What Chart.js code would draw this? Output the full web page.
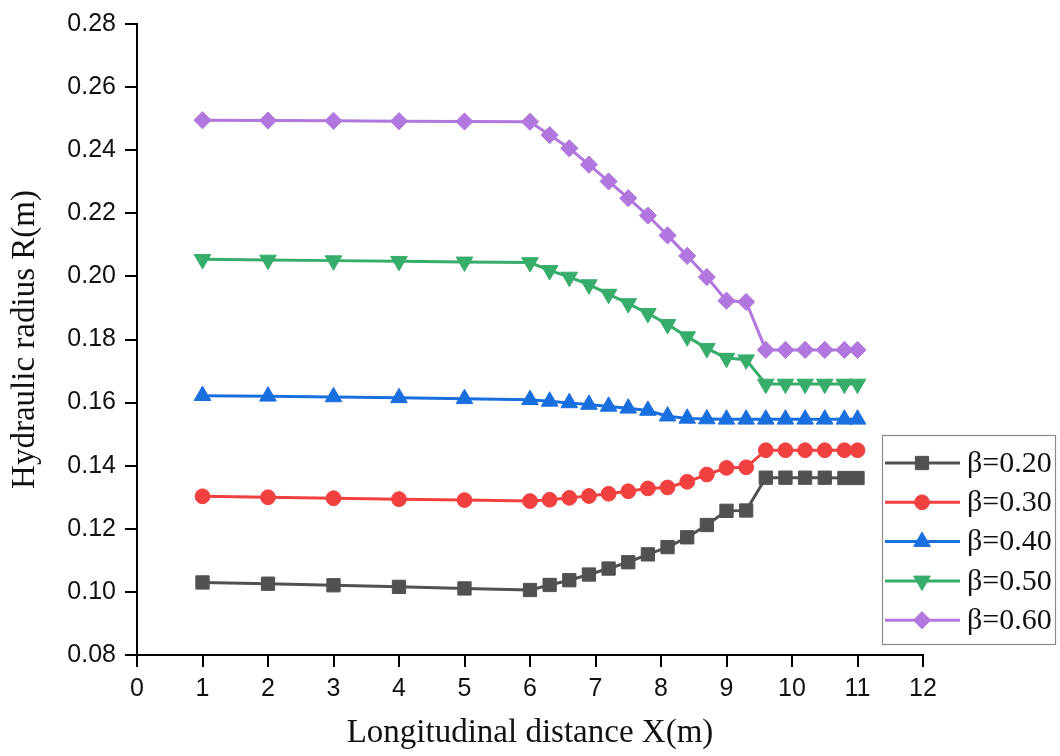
<!DOCTYPE html>
<html>
<head>
<meta charset="utf-8">
<title>Hydraulic radius</title>
<script src="https://cdn.jsdelivr.net/npm/chart.js@4/dist/chart.umd.min.js"></script>
<style>
  html, body { margin: 0; padding: 0; background: #fff; }
  #wrap { width: 1060px; height: 756px; position: relative; }
</style>
</head>
<body>
<div id="wrap"><canvas id="radiusChart"></canvas></div>
<script>
// longitudinal positions (m)
const xPositions = [1, 2, 3, 4, 5, 6, 6.3, 6.6, 6.9, 7.2, 7.5, 7.8, 8.1, 8.4, 8.7, 9.0, 9.3, 9.6, 9.9, 10.2, 10.5, 10.8, 11.0];

// hydraulic radius R (m) for each beta
const beta020 = [0.1030, 0.1026, 0.1021, 0.1016, 0.1011, 0.1006, 0.1022, 0.1037, 0.1055, 0.1074, 0.1094, 0.1119, 0.1142, 0.1173, 0.1212, 0.1257, 0.1258, 0.1362, 0.1362, 0.1362, 0.1362, 0.1361, 0.1361];
const beta030 = [0.1303, 0.1300, 0.1297, 0.1294, 0.1291, 0.1288, 0.1292, 0.1298, 0.1304, 0.1311, 0.1319, 0.1328, 0.1331, 0.1349, 0.1372, 0.1393, 0.1395, 0.1449, 0.1449, 0.1449, 0.1449, 0.1449, 0.1449];
const beta040 = [0.1622, 0.1620, 0.1618, 0.1615, 0.1612, 0.1609, 0.1604, 0.1599, 0.1594, 0.1588, 0.1582, 0.1575, 0.1557, 0.1550, 0.1548, 0.1547, 0.1547, 0.1547, 0.1547, 0.1547, 0.1547, 0.1547, 0.1547];
const beta050 = [0.2054, 0.2052, 0.2050, 0.2048, 0.2046, 0.2044, 0.2019, 0.1998, 0.1974, 0.1944, 0.1914, 0.1883, 0.1848, 0.1809, 0.1772, 0.1741, 0.1736, 0.1659, 0.1659, 0.1659, 0.1659, 0.1659, 0.1659];
const beta060 = [0.2495, 0.2494, 0.2493, 0.2492, 0.2491, 0.2490, 0.2448, 0.2406, 0.2354, 0.2301, 0.2248, 0.2193, 0.2130, 0.2065, 0.1998, 0.1923, 0.1919, 0.1767, 0.1767, 0.1767, 0.1767, 0.1767, 0.1767];

const seriesLabels = ['β=0.20', 'β=0.30', 'β=0.40', 'β=0.50', 'β=0.60'];
const seriesValues = [beta020, beta030, beta040, beta050, beta060];
const seriesColors = ['#515151', '#F14040', '#1A6FDF', '#37AD6B', '#B177DE'];
const markerStyles = [
  { pointStyle: 'rect', radius: 9.4, rotation: 0 },
  { pointStyle: 'circle', radius: 7.4, rotation: 0 },
  { pointStyle: 'triangle', radius: 9.6, rotation: 0 },
  { pointStyle: 'triangle', radius: 9.6, rotation: 180 },
  { pointStyle: 'rectRot', radius: 8.6, rotation: 0 }
];

const xTicks = [0, 1, 2, 3, 4, 5, 6, 7, 8, 9, 10, 11, 12];
const yTicks = [0.08, 0.10, 0.12, 0.14, 0.16, 0.18, 0.20, 0.22, 0.24, 0.26, 0.28];

const datasets = seriesValues.map((vals, i) => ({
  label: seriesLabels[i],
  data: vals.map((v, j) => ({ x: xPositions[j], y: v })),
  borderColor: seriesColors[i],
  backgroundColor: seriesColors[i],
  pointBackgroundColor: seriesColors[i],
  pointBorderColor: seriesColors[i],
  borderWidth: 3,
  pointStyle: markerStyles[i].pointStyle,
  pointRadius: markerStyles[i].radius,
  pointRotation: markerStyles[i].rotation,
  pointBorderWidth: 1,
  tension: 0
}));

// boxed legend sitting over the lower right corner of the plot
const boxLegend = {
  id: 'boxLegend',
  afterDraw(chart, args, opts) {
    const ctx = chart.ctx;
    ctx.save();
    ctx.fillStyle = '#fff';
    ctx.fillRect(opts.left, opts.top, opts.width, opts.height);
    ctx.strokeStyle = '#8a8a8a';
    ctx.lineWidth = 1.2;
    ctx.strokeRect(opts.left + 0.5, opts.top + 0.5, opts.width, opts.height);
    chart.data.datasets.forEach((ds, i) => {
      const y = opts.top + opts.firstRow + i * opts.rowGap;
      ctx.strokeStyle = ds.borderColor;
      ctx.fillStyle = ds.borderColor;
      ctx.lineWidth = 3;
      ctx.beginPath();
      ctx.moveTo(opts.left + 3, y);
      ctx.lineTo(opts.left + 78, y);
      ctx.stroke();
      ctx.lineWidth = 1;
      Chart.helpers.drawPoint(ctx, {
        pointStyle: ds.pointStyle,
        radius: ds.pointRadius,
        rotation: ds.pointRotation,
        borderWidth: 1
      }, opts.left + 40, y);
      ctx.fillStyle = '#111';
      ctx.font = '30px "Liberation Serif"';
      ctx.textAlign = 'left';
      ctx.textBaseline = 'middle';
      ctx.fillText(ds.label, opts.left + 85, y + 1);
    });
    ctx.restore();
  }
};

const ctx = document.getElementById('radiusChart').getContext('2d');
new Chart(ctx, {
  type: 'line',
  data: { datasets: datasets },
  plugins: [boxLegend],
  options: {
    responsive: true,
    maintainAspectRatio: false,
    animation: false,
    layout: { padding: { left: 0, top: 21, right: 137, bottom: 0 } },
    plugins: {
      legend: { display: false },
      tooltip: { enabled: false },
      boxLegend: { left: 882, top: 435, width: 173, height: 209, firstRow: 28, rowGap: 39.3 }
    },
    scales: {
      x: {
        type: 'linear',
        min: 0,
        max: 12,
        afterFit: (scale) => { scale.height = 101; },
        afterBuildTicks: (scale) => { scale.ticks = xTicks.map(v => ({ value: v })); },
        ticks: {
          color: '#111',
          font: { family: 'Liberation Sans', size: 25 },
          padding: 7,
          maxRotation: 0,
          callback: (v) => String(v)
        },
        grid: { drawOnChartArea: false, color: '#000', lineWidth: 2, tickLength: 12 },
        border: { color: '#000', width: 2 },
        title: {
          display: true,
          text: 'Longitudinal distance X(m)',
          color: '#111',
          font: { family: 'Liberation Serif', size: 33 },
          padding: { top: 0, bottom: 3 }
        }
      },
      y: {
        min: 0.08,
        max: 0.28,
        afterFit: (scale) => { scale.width = 137; },
        afterBuildTicks: (scale) => { scale.ticks = yTicks.map(v => ({ value: v })); },
        ticks: {
          color: '#111',
          font: { family: 'Liberation Sans', size: 25 },
          padding: 9,
          callback: (v) => Number(v).toFixed(2)
        },
        grid: { drawOnChartArea: false, color: '#000', lineWidth: 2, tickLength: 12 },
        border: { color: '#000', width: 2 },
        title: {
          display: true,
          text: 'Hydraulic radius R(m)',
          color: '#111',
          font: { family: 'Liberation Serif', size: 33 },
          padding: { top: 6, bottom: 0 }
        }
      }
    }
  }
});
</script>
</body>
</html>
